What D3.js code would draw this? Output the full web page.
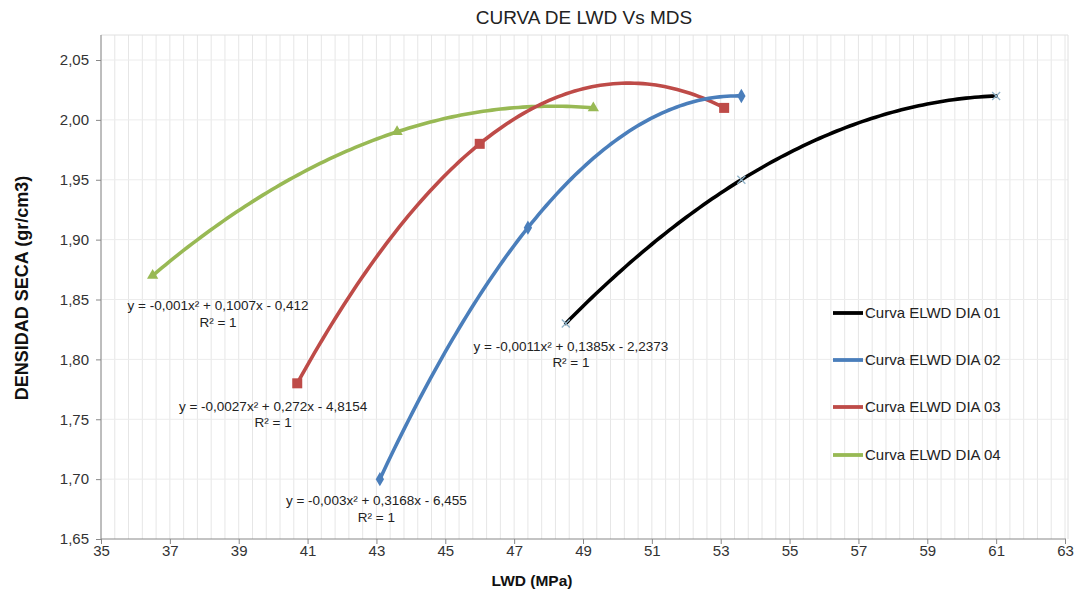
<!DOCTYPE html>
<html><head><meta charset="utf-8">
<script src="https://cdn.jsdelivr.net/npm/d3@7"></script>
<style>body{margin:0;background:#fff}svg{display:block;font-family:Arial,"Liberation Sans",sans-serif}</style>
</head><body><svg id="c" width="1087" height="595"></svg>
<script>
const seriesNames = ["Curva ELWD DIA 01","Curva ELWD DIA 02","Curva ELWD DIA 03","Curva ELWD DIA 04"];
const dia01X = [48.5, 53.6, 61.0], dia01Y = [1.83, 1.95, 2.02];
const dia02X = [43.1, 47.4, 53.6], dia02Y = [1.70, 1.91, 2.02];
const dia03X = [40.7, 46.0, 53.1], dia03Y = [1.78, 1.98, 2.01];
const dia04X = [36.5, 43.6, 49.3], dia04Y = [1.87, 1.99, 2.01];
const equations = ["y = -0,0011x² + 0,1385x - 2,2373","y = -0,003x² + 0,3168x - 6,455","y = -0,0027x² + 0,272x - 4,8154","y = -0,001x² + 0,1007x - 0,412"];
const eqAnchorX = [48.65, 43.0, 40.0, 38.4];   // data-space label anchors
const eqAnchorY = [1.807, 1.678, 1.757, 1.841];
const xTicks = [35,37,39,41,43,45,47,49,51,53,55,57,59,61,63];
const yTicks = [1.65,1.70,1.75,1.80,1.85,1.90,1.95,2.00,2.05];
const colors = ["#000000","#4A7EBB","#BE4B48","#98B954"];

const svg = d3.select("#c");
const x = d3.scaleLinear().domain([35,63]).range([101,1065]);
const y = d3.scaleLinear().domain([1.65,2.05]).range([539,60]);
const plotTop = 35, plotRight = 1068;
const fmt = v => d3.format(".2f")(v).replace(".", ",");

// grid
const g = svg.append("g");
const minor = d3.range(35, 63.01, 0.4);
g.selectAll(".vg").data(minor).enter().append("line")
 .attr("x1", d=>x(d)).attr("x2", d=>x(d)).attr("y1", plotTop).attr("y2", 539)
 .attr("stroke", "#e6e6e6").attr("stroke-width", 1);
g.selectAll(".hg").data(yTicks.slice(1)).enter().append("line")
 .attr("x1", 101).attr("x2", plotRight).attr("y1", d=>y(d)).attr("y2", d=>y(d))
 .attr("stroke", "#ececec");
g.append("line").attr("x1",101).attr("x2",plotRight).attr("y1",plotTop).attr("y2",plotTop).attr("stroke","#e0e0e0");
g.append("line").attr("x1",plotRight).attr("x2",plotRight).attr("y1",plotTop).attr("y2",539).attr("stroke","#e0e0e0");

// axes
const xa = svg.append("g").attr("transform","translate(0,539)")
 .call(d3.axisBottom(x).tickValues(xTicks).tickSize(5).tickFormat(d3.format("d")));
const ya = svg.append("g").attr("transform","translate(101,0)")
 .call(d3.axisLeft(y).tickValues(yTicks).tickSize(5).tickFormat(fmt));
[xa, ya].forEach(a => {
  a.select(".domain").remove();
  a.selectAll("line").attr("stroke","#888");
  a.selectAll("text").attr("fill","#333").style("font-size","15px").style("font-family","Arial, 'Liberation Sans', sans-serif");
});
xa.selectAll("text").attr("dy","0.71em").attr("y",6);
ya.selectAll("text").attr("x",-12);
svg.append("line").attr("x1",101).attr("x2",101).attr("y1",plotTop).attr("y2",539).attr("stroke","#888");
svg.append("line").attr("x1",101).attr("x2",1066).attr("y1",539).attr("y2",539).attr("stroke","#888");

// trendlines (quadratic through the series points)
function quadFit(xs, ys){
  const [x0,x1,x2]=xs,[y0,y1,y2]=ys;
  return t => y0*(t-x1)*(t-x2)/((x0-x1)*(x0-x2)) + y1*(t-x0)*(t-x2)/((x1-x0)*(x1-x2)) + y2*(t-x0)*(t-x1)/((x2-x0)*(x2-x1));
}
const allX=[dia01X,dia02X,dia03X,dia04X], allY=[dia01Y,dia02Y,dia03Y,dia04Y];
const line = d3.line().x(d=>x(d[0])).y(d=>y(d[1])).curve(d3.curveLinear);
[3,2,1,0].forEach(i=>{
  const f = quadFit(allX[i], allY[i]);
  const xs = allX[i];
  const pts = d3.range(0,101).map(k=>{const t = xs[0] + (xs[2]-xs[0])*k/100; return [t,f(t)];});
  svg.append("path").attr("d", line(pts)).attr("fill","none")
   .attr("stroke", colors[i]).attr("stroke-width", 3.6).attr("stroke-linecap","round");
});

// markers
const mk = svg.append("g");
dia01X.forEach((v,k)=>{
  const cx=x(v), cy=y(dia01Y[k]);
  mk.append("path").attr("d",`M${cx-4},${cy-4}L${cx+4},${cy+4}M${cx-4},${cy+4}L${cx+4},${cy-4}`)
   .attr("stroke","#8fb3c9").attr("stroke-width",1.3);
});
dia02X.forEach((v,k)=>{
  mk.append("path").attr("d", d3.symbol(d3.symbolDiamond, 60)())
   .attr("transform",`translate(${x(v)},${y(dia02Y[k])})`).attr("fill",colors[1]);
});
dia03X.forEach((v,k)=>{
  mk.append("rect").attr("x",x(v)-5).attr("y",y(dia03Y[k])-5).attr("width",10).attr("height",10).attr("fill",colors[2]);
});
dia04X.forEach((v,k)=>{
  mk.append("path").attr("d", d3.symbol(d3.symbolTriangle, 55)())
   .attr("transform",`translate(${x(v)},${y(dia04Y[k])})`).attr("fill",colors[3]);
});

// equations
equations.forEach((e,i)=>{
  const t = svg.append("text").attr("text-anchor","middle").attr("fill","#222")
   .style("font-size","13.5px");
  t.append("tspan").attr("x", x(eqAnchorX[i])).attr("y", y(eqAnchorY[i])).text(e);
  t.append("tspan").attr("x", x(eqAnchorX[i])).attr("dy", 16.5).text("R² = 1");
});

// legend
const legY = [313, 360, 407, 455];
seriesNames.forEach((n,i)=>{
  svg.append("line").attr("x1",833).attr("x2",863).attr("y1",legY[i]).attr("y2",legY[i])
   .attr("stroke",colors[i]).attr("stroke-width",3.8);
  svg.append("text").attr("x",865).attr("y",legY[i]+5).attr("fill","#222").style("font-size","15px").text(n);
});

// titles
svg.append("text").attr("x",584).attr("y",24).attr("text-anchor","middle").attr("fill","#222")
 .style("font-size","19px").text("CURVA DE LWD Vs MDS");
svg.append("text").attr("x",532).attr("y",586).attr("text-anchor","middle").attr("fill","#111")
 .style("font-size","15.5px").style("font-weight","bold").text("LWD (MPa)");
svg.append("text").attr("transform","translate(28,288) rotate(-90)").attr("text-anchor","middle").attr("fill","#111")
 .style("font-size","18px").style("font-weight","bold").text("DENSIDAD SECA (gr/cm3)");
</script></body></html>
